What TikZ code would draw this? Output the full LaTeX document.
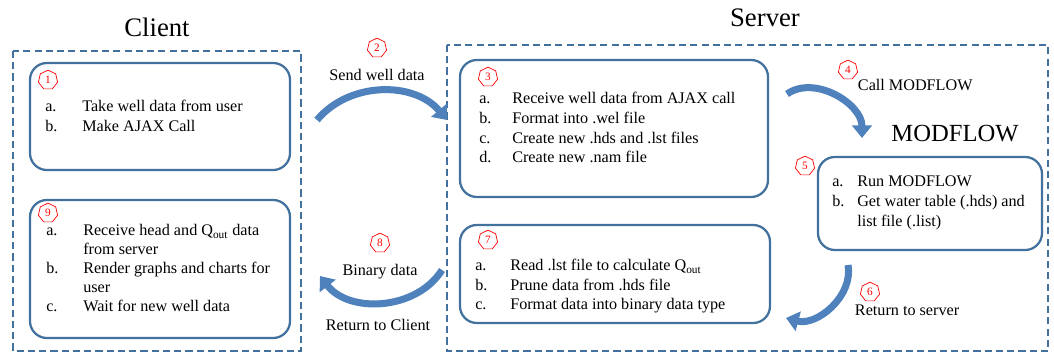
\documentclass[tikz,border=0pt]{standalone}
\usepackage{fontspec}
\setmainfont{Liberation Serif}
\usetikzlibrary{arrows.meta,shapes.geometric}

\definecolor{frameblue}{RGB}{65,113,156}
\definecolor{arrowblue}{RGB}{79,129,189}

\tikzset{
  group/.style={draw=frameblue, line width=1.1pt, dash pattern=on 5pt off 3pt},
  stepbox/.style={draw=frameblue, line width=1.6pt, rounded corners=12pt},
  marker/.style={regular polygon, regular polygon sides=7, draw=red, line width=0.5pt,
    text=red, font=\fontsize{8}{8}\selectfont, inner sep=0.6pt, minimum size=14pt},
  flow/.style={draw=arrowblue, line width=5pt, -{Triangle[length=9pt,width=14pt]}},
  item/.style={anchor=base west, inner sep=0pt},
  title/.style={font=\fontsize{19}{22}\selectfont}
}

\begin{document}
\begin{tikzpicture}[x=0.025cm, y=0.025cm, font=\fontsize{11.5}{14}\selectfont]
  \useasboundingbox (0,0) rectangle (1054,-354);

  % Titles
  \node[title] (client) at (157,-27) {Client};
  \node[title] (server) at (765,-18) {Server};
  \node[title, font=\fontsize{17.5}{20}\selectfont] (modflow) at (955,-134) {MODFLOW};

  % Client and server areas
  \draw[group] (13,-51) rectangle (301,-351);
  \draw[group] (447,-45) rectangle (1048,-351);

  % Step boxes
  \draw[stepbox] (30,-63) rectangle (290,-170);
  \draw[stepbox] (30,-200) rectangle (290,-338);
  \draw[stepbox] (460,-60) rectangle (768,-197);
  \draw[stepbox] (460,-225) rectangle (770,-323);
  \draw[stepbox] (818,-157) rectangle (1042,-250);

  % Step numbers
  \foreach \n/\x/\y in {1/48/80, 2/377/48, 3/488/77, 4/848/70, 5/805/166,
                        6/870/292, 7/488/240, 8/380/243, 9/48/213}
    \node[marker] (n\n) at (\x,-\y) {\n};

  % Box 1
  \foreach \y/\lbl/\txt [count=\i] in {112/a./Take well data from user,
                                       132/b./Make AJAX Call} {
    \node[item] (one-l\i) at (45,-\y) {\lbl};
    \node[item] (one-t\i) at (82,-\y) {\txt};
  }

  % Box 9
  \foreach \y/\lbl/\txt [count=\i] in {236/a./Receive head and Q\textsubscript{out} data,
                                       255//from server,
                                       274/b./Render graphs and charts for,
                                       293//user,
                                       312/c./Wait for new well data} {
    \node[item] (nine-l\i) at (46,-\y) {\lbl};
    \node[item] (nine-t\i) at (83,-\y) {\txt};
  }

  % Box 3
  \foreach \y/\lbl/\txt [count=\i] in {104/a./Receive well data from AJAX call,
                                       124/b./Format into .wel file,
                                       144/c./Create new .hds and .lst files,
                                       163/d./Create new .nam file} {
    \node[item] (three-l\i) at (479,-\y) {\lbl};
    \node[item] (three-t\i) at (512,-\y) {\txt};
  }

  % Box 7
  \foreach \y/\lbl/\txt [count=\i] in {271/a./Read .lst file to calculate Q\textsubscript{out},
                                       290/b./Prune data from .hds file,
                                       309/c./Format data into binary data type} {
    \node[item] (seven-l\i) at (475,-\y) {\lbl};
    \node[item] (seven-t\i) at (510,-\y) {\txt};
  }

  % Box 5
  \foreach \y/\lbl/\txt [count=\i] in {187/a./Run MODFLOW,
                                       207/b./Get water table (.hds) and,
                                       227//list file (.list)} {
    \node[item] (five-l\i) at (832,-\y) {\lbl};
    \node[item] (five-t\i) at (857,-\y) {\txt};
  }

  % Arrow labels
  \node (send) at (377,-75) {Send well data};
  \node[anchor=west] (call) at (853,-85) {Call MODFLOW};
  \node[anchor=west] (back) at (850,-310) {Return to server};
  \node (binary) at (380,-272) {Binary data};
  \node (retclient) at (378,-325) {Return to Client};

  % Flow arrows
  \coordinate (send-a) at (317,-120);
  \coordinate (send-b) at (447,-120);
  \coordinate (call-a) at (787,-94);
  \coordinate (call-b) at (862,-138);
  \coordinate (back-a) at (848,-265);
  \coordinate (back-b) at (786,-318);
  \coordinate (bin-a) at (442,-270);
  \coordinate (bin-b) at (320,-276);

  \draw[flow] (send-a) to[bend left=50] (send-b);
  \draw[flow] (call-a) to[out=35, in=90] (call-b);
  \draw[flow] (back-a) to[out=-80, in=-15] (back-b);
  \draw[flow] (bin-a) to[bend left=55] (bin-b);
\end{tikzpicture}
\end{document}
